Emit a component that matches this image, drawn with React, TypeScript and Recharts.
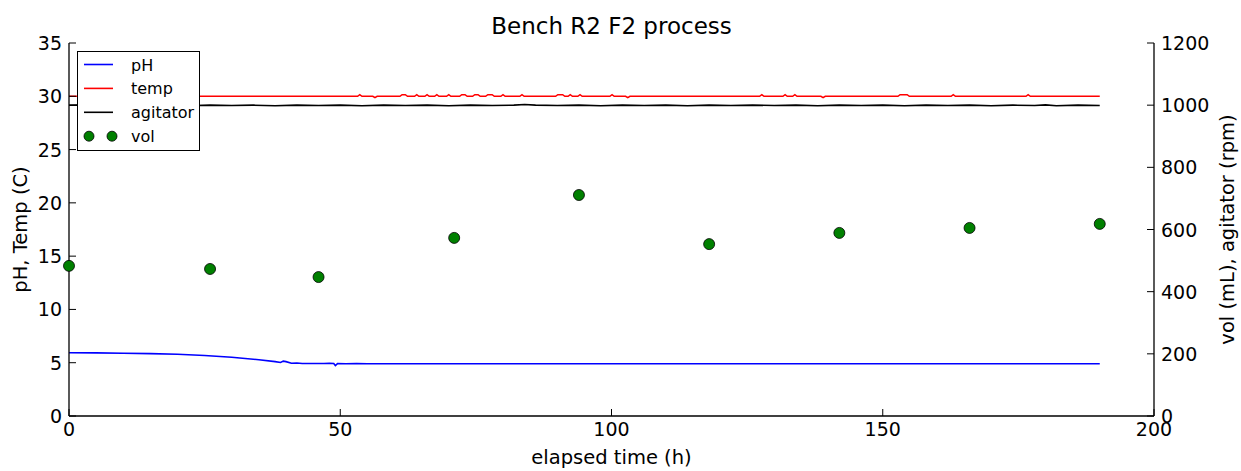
import { ComposedChart, Line, Scatter, XAxis, YAxis, Legend, Label } from 'recharts';

const FONT = '"DejaVu Sans", sans-serif';

// x-axis / y-axis ticks
const timeTicks = [0, 50, 100, 150, 200];
const leftTicks = [0, 5, 10, 15, 20, 25, 30, 35];
const rightTicks = [0, 200, 400, 600, 800, 1000, 1200];

// pH readings (time h, pH)
const phReadings: [number, number][] = [
  [0, 5.94], [5, 5.92], [10, 5.89], [15, 5.85], [20, 5.79], [25, 5.68],
  [30, 5.52], [35, 5.28], [38, 5.1], [39, 5.02], [39.5, 5.15], [40, 5.1],
  [41, 4.95], [42, 4.97], [43, 4.92], [45, 4.93], [47, 4.92], [48, 4.95],
  [48.8, 4.93], [49.1, 4.74], [49.5, 4.92], [51, 4.9], [53, 4.93], [55, 4.9],
  [60, 4.9], [80, 4.9], [100, 4.9], [120, 4.9], [140, 4.9], [160, 4.9],
  [180, 4.9], [190, 4.9],
];

// temperature readings (time h, C)
const tempReadings: [number, number][] = [
  [0, 30], [53.2, 30], [53.6, 30.15], [54, 30], [56, 30], [56.4, 29.88], [56.8, 30],
  [61, 30], [61.4, 30.15], [62, 30.15], [62.4, 30], [63.7, 30], [64.1, 30.15], [64.5, 30],
  [65.6, 30], [66, 30.15], [66.4, 30], [67.4, 30], [67.8, 30.15], [68.2, 30],
  [69.6, 30], [70, 30.15], [70.4, 30], [72, 30], [72.4, 30.15], [73, 30.15], [73.4, 30],
  [74.4, 30], [74.8, 30.15], [75.4, 30.15], [75.8, 30], [76.8, 30], [77.2, 30.15],
  [78, 30.15], [78.4, 30], [79.6, 30], [80, 30.15], [80.4, 30], [83.1, 30], [83.5, 30.15],
  [83.9, 30], [89.7, 30], [90.1, 30.15], [91, 30.15], [91.4, 30], [92, 30], [92.4, 30.15],
  [92.8, 30], [93.8, 30], [94.2, 30.15], [94.6, 30], [99.7, 30], [100.1, 30.15], [100.5, 30],
  [102.6, 30], [103, 29.88], [103.4, 30], [127.3, 30], [127.7, 30.15], [128.1, 30],
  [131.6, 30], [132, 30.15], [132.4, 30], [133.4, 30], [133.8, 30.15], [134.2, 30],
  [138.6, 30], [139, 29.88], [139.4, 30], [152.8, 30], [153.2, 30.15], [154.5, 30.15],
  [154.9, 30], [162.6, 30], [163, 30.15], [163.4, 30], [176.4, 30], [176.8, 30.15],
  [177.2, 30], [190, 30],
];

// agitator speed readings (time h, rpm)
const agitatorReadings: [number, number][] = [
  [0, 1000], [4, 1001], [7, 998], [10, 1000], [14, 999], [18, 1000], [22, 998],
  [26, 1000], [30, 999], [34, 1000], [38, 998], [42, 1000], [46, 999], [50, 1000],
  [54, 998], [58, 1000], [62, 999], [66, 1000], [70, 998], [74, 1000], [78, 999],
  [82, 1000], [84, 1002], [86, 1000], [90, 999], [94, 1000], [98, 998], [102, 1000],
  [106, 999], [110, 1000], [114, 998], [118, 1000], [122, 999], [126, 1000], [130, 999],
  [134, 1000], [138, 998], [142, 1000], [146, 999], [150, 1000], [154, 998], [158, 1000],
  [162, 999], [166, 1000], [170, 998], [174, 1000], [178, 999], [180, 1001], [182, 998],
  [186, 1000], [190, 999],
];

// culture volume samples (time h, mL)
const volTimes = [0, 26, 46, 71, 94, 118, 142, 166, 190];
const volValues = [483, 473, 447, 573, 711, 553, 589, 605, 618];

const legendItems = [
  { name: 'pH', color: '#0000ff', kind: 'line' },
  { name: 'temp', color: '#ff0000', kind: 'line' },
  { name: 'agitator', color: '#000000', kind: 'line' },
  { name: 'vol', color: '#008000', kind: 'dot' },
];

const phData = phReadings.map(([t, v]) => ({ t, v }));
const tempData = tempReadings.map(([t, v]) => ({ t, v }));
const agitatorData = agitatorReadings.map(([t, v]) => ({ t, v }));
const volData = volTimes.map((t, i) => ({ t, v: volValues[i] }));

const TICK = 7;

function BottomTick({ x, y, payload }: any) {
  return (
    <g>
      <line x1={x} x2={x} y1={y} y2={y - TICK} stroke="#000" strokeWidth={1} />
      <text x={x} y={y + 20} textAnchor="middle" fontSize={19} fontFamily={FONT} fill="#000">
        {payload.value}
      </text>
    </g>
  );
}

function TopTick({ x, y }: any) {
  return <line x1={x} x2={x} y1={y} y2={y + TICK} stroke="#000" strokeWidth={1} />;
}

function LeftTick({ x, y, payload }: any) {
  return (
    <g>
      <line x1={x} x2={x + TICK} y1={y} y2={y} stroke="#000" strokeWidth={1} />
      <text x={x - 7} y={y + 7} textAnchor="end" fontSize={19} fontFamily={FONT} fill="#000">
        {payload.value}
      </text>
    </g>
  );
}

function RightTick({ x, y, payload }: any) {
  return (
    <g>
      <line x1={x} x2={x - TICK} y1={y} y2={y} stroke="#000" strokeWidth={1} />
      <text x={x + 7} y={y + 7} textAnchor="start" fontSize={19} fontFamily={FONT} fill="#000">
        {payload.value}
      </text>
    </g>
  );
}

function VolDot({ cx, cy }: any) {
  return <circle cx={cx} cy={cy} r={5.5} fill="#008000" stroke="#000" strokeWidth={0.8} />;
}

function LegendBox() {
  return (
    <svg width={124} height={101} style={{ display: 'block' }}>
      <rect x={0.5} y={0.5} width={122} height={99} fill="#fff" stroke="#000" strokeWidth={1} />
      {legendItems.map((item, i) => {
        const cy = 13.5 + i * 23.9;
        return (
          <g key={item.name}>
            {item.kind === 'line' ? (
              <line x1={7} x2={36} y1={cy} y2={cy} stroke={item.color} strokeWidth={1.6} />
            ) : (
              <g>
                <circle cx={12} cy={cy} r={5} fill={item.color} stroke="#000" strokeWidth={0.8} />
                <circle cx={35} cy={cy} r={5} fill={item.color} stroke="#000" strokeWidth={0.8} />
              </g>
            )}
            <text x={54} y={cy + 6} fontSize={16} fontFamily={FONT} fill="#000">
              {item.name}
            </text>
          </g>
        );
      })}
    </svg>
  );
}

export default function App() {
  return (
    <div style={{ position: 'relative', width: 1241, height: 471, background: '#fff' }}>
      <style>{`body{margin:0;background:#fff}`}</style>
      <ComposedChart
        width={1241}
        height={471}
        margin={{ top: 43, right: 0, bottom: 0, left: 0 }}
      >
        <XAxis
          dataKey="t"
          type="number"
          domain={[0, 200]}
          ticks={timeTicks}
          height={55}
          tickSize={0}
          tickMargin={0}
          tickLine={false}
          axisLine={{ stroke: '#000', strokeWidth: 1.3 }}
          tick={<BottomTick />}
          interval={0}
        >
          <Label
            content={() => (
              <g>
                <text x={611.5} y={464} textAnchor="middle" fontSize={19.5} fontFamily={FONT} fill="#000">
                  elapsed time (h)
                </text>
                <text x={611.5} y={34} textAnchor="middle" fontSize={23} fontFamily={FONT} fill="#000">
                  Bench R2 F2 process
                </text>
              </g>
            )}
          />
        </XAxis>
        <XAxis
          xAxisId="top"
          orientation="top"
          dataKey="t"
          type="number"
          domain={[0, 200]}
          ticks={timeTicks}
          height={0}
          tickSize={0}
          tickMargin={0}
          tickLine={false}
          axisLine={{ stroke: '#000', strokeWidth: 1.3 }}
          tick={<TopTick />}
          interval={0}
        />
        <YAxis
          yAxisId="left"
          domain={[0, 35]}
          ticks={leftTicks}
          width={69}
          tickSize={0}
          tickMargin={0}
          tickLine={false}
          axisLine={{ stroke: '#000', strokeWidth: 1.3 }}
          tick={<LeftTick />}
          interval={0}
        >
          <Label
            content={() => (
              <text
                x={27}
                y={229.5}
                transform="rotate(-90 27 229.5)"
                textAnchor="middle"
                fontSize={19.5}
                fontFamily={FONT}
                fill="#000"
              >
                pH, Temp (C)
              </text>
            )}
          />
        </YAxis>
        <YAxis
          yAxisId="right"
          orientation="right"
          domain={[0, 1200]}
          ticks={rightTicks}
          width={87}
          tickSize={0}
          tickMargin={0}
          tickLine={false}
          axisLine={{ stroke: '#000', strokeWidth: 1.3 }}
          tick={<RightTick />}
          interval={0}
        >
          <Label
            content={() => (
              <text
                x={1234}
                y={229.5}
                transform="rotate(-90 1234 229.5)"
                textAnchor="middle"
                fontSize={19.5}
                fontFamily={FONT}
                fill="#000"
              >
                vol (mL), agitator (rpm)
              </text>
            )}
          />
        </YAxis>
        <Line
          yAxisId="left"
          data={phData}
          dataKey="v"
          name="pH"
          stroke="#0000ff"
          strokeWidth={1.6}
          dot={false}
          isAnimationActive={false}
        />
        <Line
          yAxisId="left"
          data={tempData}
          dataKey="v"
          name="temp"
          stroke="#ff0000"
          strokeWidth={1.6}
          dot={false}
          isAnimationActive={false}
        />
        <Line
          yAxisId="right"
          data={agitatorData}
          dataKey="v"
          name="agitator"
          stroke="#000000"
          strokeWidth={1.6}
          dot={false}
          isAnimationActive={false}
        />
        <Scatter
          yAxisId="right"
          data={volData}
          dataKey="v"
          name="vol"
          fill="#008000"
          shape={<VolDot />}
          isAnimationActive={false}
        />
        <Legend
          layout="vertical"
          align="center"
          verticalAlign="middle"
          content={() => <LegendBox />}
          wrapperStyle={{ position: 'absolute', left: 77, top: 51, width: 124, height: 101 }}
        />
      </ComposedChart>
    </div>
  );
}
